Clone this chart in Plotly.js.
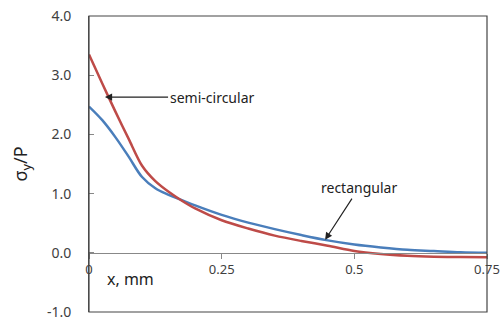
<!DOCTYPE html>
<html>
<head>
<meta charset="utf-8">
<script src="https://cdn.plot.ly/plotly-3.0.1.min.js"></script>
<style>html,body{margin:0;padding:0;background:#fff}#chart{width:503px;height:321px}</style>
</head>
<body>
<div id="chart"></div>
<script>
const xValues = [0, 0.025, 0.05, 0.075, 0.1, 0.125, 0.15, 0.175, 0.2, 0.25, 0.3, 0.35, 0.4, 0.45, 0.5, 0.55, 0.6, 0.65, 0.7, 0.75];
const semiCircular = [3.35, 2.86, 2.38, 1.92, 1.47, 1.21, 1.03, 0.88, 0.75, 0.55, 0.41, 0.29, 0.2, 0.12, 0.03, -0.02, -0.05, -0.065, -0.072, -0.075];
const rectangular = [2.47, 2.24, 1.95, 1.62, 1.28, 1.09, 0.98, 0.89, 0.8, 0.64, 0.51, 0.4, 0.3, 0.21, 0.14, 0.09, 0.05, 0.03, 0.01, 0.0];
const xTickVals = [0, 0.25, 0.5, 0.75];
const xTickText = ['0', '0.25', '0.5', '0.75'];
const yTickVals = [-1, 0, 1, 2, 3, 4];
const yTickText = ['-1.0', '0.0', '1.0', '2.0', '3.0', '4.0'];
const seriesNames = ['semi-circular', 'rectangular'];

const font = 'Noto Sans, Open Sans, sans-serif';
const traces = [
  {x: xValues, y: rectangular, name: seriesNames[1], mode: 'lines', line: {color: '#4a7ebb', width: 2.5, shape: 'spline', smoothing: 1}},
  {x: xValues, y: semiCircular, name: seriesNames[0], mode: 'lines', line: {color: '#be4b48', width: 2.5, shape: 'spline', smoothing: 0.8}}
];
const layout = {
  width: 503, height: 321,
  margin: {l: 89, r: 16, t: 16, b: 9},
  paper_bgcolor: '#fff', plot_bgcolor: '#fff',
  showlegend: false,
  font: {family: font, size: 13, color: '#404040'},
  xaxis: {
    range: [0, 0.75], tickvals: xTickVals, ticktext: xTickText,
    showgrid: false, zeroline: false, showline: true, linecolor: '#888', linewidth: 1,
    ticks: 'outside', ticklen: 5, tickcolor: '#888',
    anchor: 'free', position: 0.2,
    tickfont: {family: font, size: 13, color: '#404040'}
  },
  yaxis: {
    range: [-1, 4], tickvals: yTickVals, ticktext: yTickText,
    showgrid: false, zeroline: false, showline: true, linecolor: '#555', linewidth: 1,
    ticks: 'inside', ticklen: 5, tickcolor: '#888', ticklabelstandoff: 14,
    tickfont: {family: font, size: 14, color: '#404040'},
    title: {text: 'σ<sub>y</sub>/P', font: {family: font, size: 18, color: '#222'}, standoff: 14}
  },
  shapes: [
    {type: 'rect', xref: 'paper', yref: 'paper', x0: 0, x1: 1, y0: 0, y1: 1, line: {color: '#444', width: 1.2}}
  ],
  annotations: [
    {xref: 'paper', yref: 'paper', x: 0.04, y: 0.11, xanchor: 'left', yanchor: 'middle', text: 'x, mm', showarrow: false, font: {family: font, size: 16, color: '#222'}},
    {x: 0.03, y: 2.63, ax: 0.149, ay: 2.63, axref: 'x', ayref: 'y', xref: 'x', yref: 'y', xanchor: 'left', yanchor: 'middle', text: 'semi-circular', showarrow: true, arrowhead: 2, arrowsize: 1.2, arrowwidth: 1.2, arrowcolor: '#222', font: {family: font, size: 14, color: '#222'}},
    {x: 0.445, y: 0.22, ax: 0.509, ay: 1.1, axref: 'x', ayref: 'y', xref: 'x', yref: 'y', xanchor: 'center', yanchor: 'middle', text: 'rectangular', showarrow: true, arrowhead: 2, arrowsize: 1.2, arrowwidth: 1.2, arrowcolor: '#222', font: {family: font, size: 14, color: '#222'}}
  ]
};
Plotly.newPlot('chart', traces, layout, {staticPlot: true, displayModeBar: false});
</script>
</body>
</html>
